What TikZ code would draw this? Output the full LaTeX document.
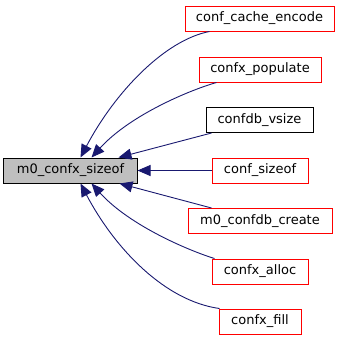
\documentclass[tikz,border=0pt]{standalone}
\usepackage{fontspec}
\setmainfont{DejaVu Sans}
\usetikzlibrary{arrows.meta}
\definecolor{edgeblue}{HTML}{191970}
\definecolor{boxred}{HTML}{FF0000}
\definecolor{mainfill}{HTML}{BFBFBF}
\begin{document}
\begin{tikzpicture}[x=1pt,y=-1pt,
  fnbox/.style={draw=boxred, line width=1pt, fill=white, inner sep=0pt,
    minimum height=25pt, font=\fontsize{13}{15}\selectfont, text=black},
  plainbox/.style={fnbox, draw=black},
  mainbox/.style={fnbox, draw=black, fill=mainfill},
  edge/.style={draw=edgeblue, line width=0.9pt,
    {Triangle[length=13pt,width=11pt,fill=edgeblue]}-}]
\useasboundingbox (0,0) rectangle (340,341);

% the function whose callers are shown
\node[mainbox, minimum width=133pt] (main) at (70.5,170.5) {m0\_confx\_sizeof};

% callers
\node[fnbox, minimum width=149pt] (cce) at (259.5,18.5) {conf\_cache\_encode};
\node[fnbox, minimum width=122pt] (pop) at (260,69.5) {confx\_populate};
\node[plainbox, minimum width=107pt] (vsz) at (259.5,120) {confdb\_vsize};
\node[fnbox, minimum width=96pt] (csz) at (260,170.5) {conf\_sizeof};
\node[fnbox, minimum width=144pt] (cre) at (260,221) {m0\_confdb\_create};
\node[fnbox, minimum width=96pt] (all) at (260,271.5) {confx\_alloc};
\node[fnbox, minimum width=82pt] (fil) at (260,321.5) {confx\_fill};

% call edges, arrow at the callee
\draw[edge] ([xshift=77pt]main.north west) .. controls (115,92) and (165,40) .. ([xshift=25pt]cce.south west);
\draw[edge] ([xshift=88pt]main.north west) .. controls (130,115) and (190,90) .. ([xshift=18pt]pop.south west);
\draw[edge] ([xshift=115pt]main.north west) -- ([xshift=6pt]vsz.south west);
\draw[edge] (main.east) -- (csz.west);
\draw[edge] ([xshift=116pt]main.south west) -- ([xshift=24pt]cre.north west);
\draw[edge] ([xshift=88pt]main.south west) .. controls (130,226) and (190,251) .. ([xshift=3pt]all.north west);
\draw[edge] ([xshift=77pt]main.south west) .. controls (115,249) and (165,301) .. ([xshift=1pt]fil.north west);
\end{tikzpicture}
\end{document}
